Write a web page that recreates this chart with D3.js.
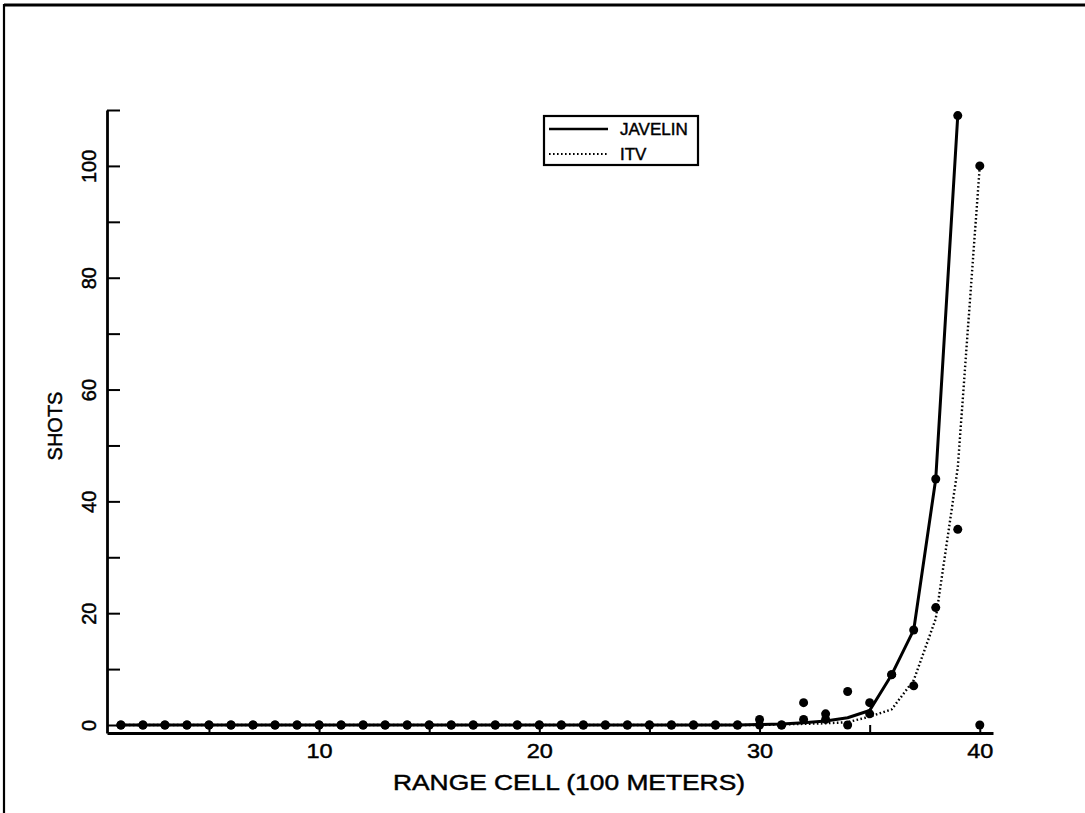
<!DOCTYPE html>
<html>
<head>
<meta charset="utf-8">
<script src="https://cdn.jsdelivr.net/npm/d3@7"></script>
<style>
  body { margin: 0; background: #fff; }
  text { font-family: "Liberation Sans", Arial, sans-serif; fill: #000; stroke: #000; stroke-width: 0.45px; }
</style>
</head>
<body>
<svg id="chart" width="1085" height="813"></svg>
<script>
// Range cells (hundreds of metres)
const rangeCells = [1,2,3,4,5,6,7,8,9,10,11,12,13,14,15,16,17,18,19,20,
                    21,22,23,24,25,26,27,28,29,30,31,32,33,34,35,36,37,38,39,40];

// Observed shots per range cell
const javelinShots = [0,0,0,0,0,0,0,0,0,0, 0,0,0,0,0,0,0,0,0,0,
                      0,0,0,0,0,0,0,0,0,1, 0,1,2,6,4,9,17,44,109,0];
const itvShots     = [0,0,0,0,0,0,0,0,0,0, 0,0,0,0,0,0,0,0,0,0,
                      0,0,0,0,0,0,0,0,0,0, 0,4,1,0,2,9,7,21,35,100];

// Fitted curves per range cell
const javelinFitCells = [1,2,3,4,5,6,7,8,9,10,11,12,13,14,15,16,17,18,19,20,
                         21,22,23,24,25,26,27,28,29,30,31,32,33,34,35,36,37,38,39];
const javelinFit = [0,0,0,0,0,0,0,0,0,0, 0,0,0,0,0,0,0,0,0,0,
                    0,0,0,0,0,0,0,0,0,0.1, 0.2,0.4,0.7,1.3,2.6,9,17,44,109];
const itvFitCells = rangeCells;
const itvFit = [0,0,0,0,0,0,0,0,0,0, 0,0,0,0,0,0,0,0,0,0,
                0,0,0,0,0,0,0,0,0,0, 0.1,0.2,0.3,0.5,1.5,2.8,8,19,46,100];

// Axis ticks
const xTickValues = [5,10,15,20,25,30,35,40];
const xTickLabels = [10,20,30,40];
const yTickValues = [0,10,20,30,40,50,60,70,80,90,100,110];
const yTickLabels = [0,20,40,60,80,100];

const seriesNames = ["JAVELIN", "ITV"];

const svg = d3.select("#chart");

// Page frame
svg.append("line").attr("x1", 4).attr("y1", 5).attr("x2", 1085).attr("y2", 5)
  .attr("stroke", "#000").attr("stroke-width", 3);
svg.append("line").attr("x1", 4).attr("y1", 4).attr("x2", 4).attr("y2", 813)
  .attr("stroke", "#000").attr("stroke-width", 2.2);

const x = d3.scaleLinear().domain([0.37, 40.6]).range([107, 993]);
const y = d3.scaleLinear().domain([-1.43, 110]).range([733, 110]);

// X axis
const xAxis = svg.append("g").attr("transform", `translate(0,${y.range()[0]})`)
  .call(d3.axisBottom(x).tickValues(xTickValues).tickSize(-8).tickSizeOuter(0)
    .tickPadding(10).tickFormat(d => xTickLabels.includes(d) ? d : ""));
xAxis.select(".domain").attr("stroke-width", 2.8);
xAxis.selectAll(".tick line").attr("stroke-width", 2);
xAxis.selectAll(".tick text")
  .attr("transform", "scale(1.12,1)")
  .style("font-size", "21px").style("font-family", null);

// Y axis
const yAxis = svg.append("g").attr("transform", `translate(${x.range()[0]},0)`)
  .call(d3.axisLeft(y).tickValues(yTickValues).tickSize(-13).tickSizeOuter(0)
    .tickPadding(0).tickFormat(d => yTickLabels.includes(d) ? d : ""));
yAxis.select(".domain").attr("stroke-width", 2.8);
yAxis.selectAll(".tick line").attr("stroke-width", 2);
yAxis.selectAll(".tick text")
  .attr("x", null).attr("dy", "0.36em")
  .attr("text-anchor", "middle")
  .attr("transform", "translate(-18,0) rotate(-90)")
  .style("font-size", "20px").style("font-family", null);
svg.selectAll(".tick text").attr("fill", "#000");

// Axis titles
svg.append("text").attr("x", 393).attr("y", 790)
  .attr("textLength", 352).attr("lengthAdjust", "spacingAndGlyphs")
  .style("font-size", "22px").text("RANGE CELL (100 METERS)");
svg.append("text").attr("transform", "translate(62,426) rotate(-90)")
  .attr("text-anchor", "middle").style("font-size", "20px").text("SHOTS");

// Fitted curves
const line = d3.line().x(d => x(d[0])).y(d => y(d[1]));
svg.append("path")
  .datum(javelinFitCells.map((c, i) => [c, javelinFit[i]]))
  .attr("d", line).attr("fill", "none").attr("stroke", "#000")
  .attr("stroke-width", 3).attr("stroke-linejoin", "round");
svg.append("path")
  .datum(itvFitCells.map((c, i) => [c, itvFit[i]]))
  .attr("d", line).attr("fill", "none").attr("stroke", "#000")
  .attr("stroke-width", 2.4).attr("stroke-dasharray", "1.6,2.4");

// Observed points
const points = [];
rangeCells.forEach((c, i) => {
  points.push([c, javelinShots[i]]);
  points.push([c, itvShots[i]]);
});
svg.append("g").selectAll("circle").data(points).join("circle")
  .attr("cx", d => x(d[0])).attr("cy", d => y(d[1])).attr("r", 4.5)
  .attr("fill", "#000");

// Legend
const lg = svg.append("g");
lg.append("rect").attr("x", 544).attr("y", 116).attr("width", 154).attr("height", 49)
  .attr("fill", "#fff").attr("stroke", "#000").attr("stroke-width", 2.2);
lg.append("line").attr("x1", 549).attr("x2", 608).attr("y1", 129).attr("y2", 129)
  .attr("stroke", "#000").attr("stroke-width", 2.4);
lg.append("line").attr("x1", 549).attr("x2", 608).attr("y1", 154).attr("y2", 154)
  .attr("stroke", "#000").attr("stroke-width", 2).attr("stroke-dasharray", "1.6,2.4");
lg.selectAll("text.lab").data(seriesNames).join("text").attr("class", "lab")
  .attr("x", 620).attr("y", (d, i) => 135 + i * 25)
  .style("font-size", "17px").text(d => d);
</script>
</body>
</html>
